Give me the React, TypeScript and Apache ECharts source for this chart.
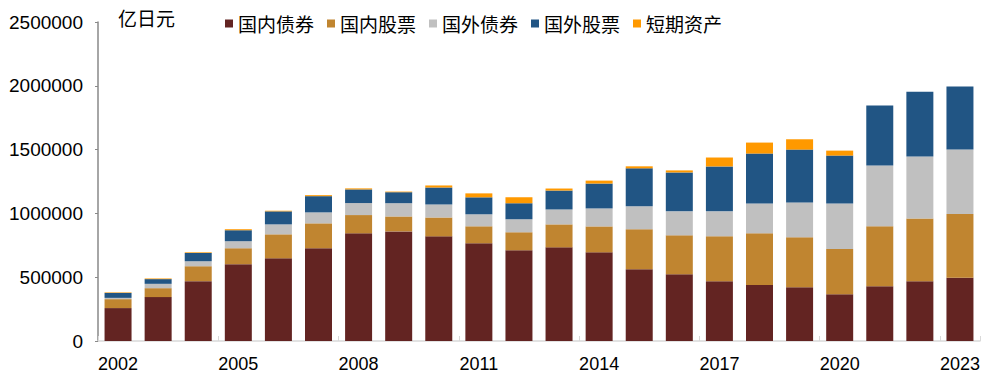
import React, { useEffect, useRef } from "react";
import * as echarts from "echarts";

const years = ["2002","2003","2004","2005","2006","2007","2008","2009","2010","2011","2012","2013","2014","2015","2016","2017","2018","2019","2020","2021","2022","2023"];
const domesticBonds = [258000,344000,469000,602000,648000,727000,844000,859000,820000,766000,711000,734000,695000,563000,523000,469000,438000,422000,367000,430000,469000,495000];
const domesticStocks = [70000,70000,117000,125000,188000,195000,143000,117000,148000,133000,141000,180000,203000,313000,305000,352000,406000,391000,354000,469000,492000,500000];
const foreignBonds = [10000,34000,39000,55000,78000,86000,94000,104000,102000,94000,102000,117000,141000,180000,188000,195000,234000,273000,357000,477000,484000,505000];
const foreignStocks = [39000,37000,65000,86000,102000,127000,107000,86000,133000,133000,125000,148000,195000,297000,305000,352000,391000,414000,375000,469000,508000,495000];
const shortTerm = [4000,5000,5000,8000,5000,8000,8000,5000,16000,31000,47000,16000,23000,16000,16000,70000,86000,81000,39000,0,0,0];

const seriesNames = ["国内债券", "国内股票", "国外债券", "国外股票", "短期资产"];
const seriesColors = ["#632422", "#C08530", "#C0C0C0", "#215584", "#FF9900"];
const unitLabel = "亿日元";

export default function App() {
  const ref = useRef<HTMLDivElement>(null);
  useEffect(() => {
    if (!ref.current) return;
    const chart = echarts.init(ref.current, null, { renderer: "svg" });
    const dataSets = [domesticBonds, domesticStocks, foreignBonds, foreignStocks, shortTerm];
    chart.setOption({
      animation: false,
      grid: { left: 98, right: 10, top: 22, bottom: 34, containLabel: false },
      legend: {
        left: 220,
        top: 9,
        icon: "rect",
        itemWidth: 8,
        itemHeight: 8,
        itemGap: 13,
        textStyle: { fontSize: 19, color: "#000", fontFamily: "Noto Sans CJK SC" },
        data: seriesNames,
      },
      graphic: [
        {
          type: "text",
          left: 118,
          top: 8,
          style: { text: unitLabel, fontSize: 19, fill: "#000", fontFamily: "Noto Sans CJK SC" },
        },
      ],
      xAxis: {
        type: "category",
        data: years,
        axisLine: { lineStyle: { color: "#D9D9D9", width: 1.5 } },
        axisTick: { show: true, inside: true, length: 5, interval: 2, lineStyle: { color: "#D9D9D9" } },
        axisLabel: { interval: 2, fontSize: 18, color: "#000", margin: 14, fontFamily: "Liberation Sans" },
      },
      yAxis: {
        type: "value",
        min: 0,
        max: 2500000,
        interval: 500000,
        splitLine: { show: false },
        axisLine: { show: true, lineStyle: { color: "#898989", width: 1.5 } },
        axisTick: { show: true, length: 3, lineStyle: { color: "#898989" } },
        axisLabel: {
          fontSize: 19,
          color: "#000",
          margin: 15,
          fontFamily: "Liberation Sans",
          formatter: (v: number) => String(v),
        },
      },
      series: dataSets.map((d, i) => ({
        name: seriesNames[i],
        type: "bar",
        stack: "total",
        data: d,
        barWidth: 27,
        itemStyle: { color: seriesColors[i] },
      })),
    });
    return () => chart.dispose();
  }, []);
  return <div ref={ref} style={{ width: 990, height: 375, position: "absolute", left: 0, top: 0 }} />;
}
